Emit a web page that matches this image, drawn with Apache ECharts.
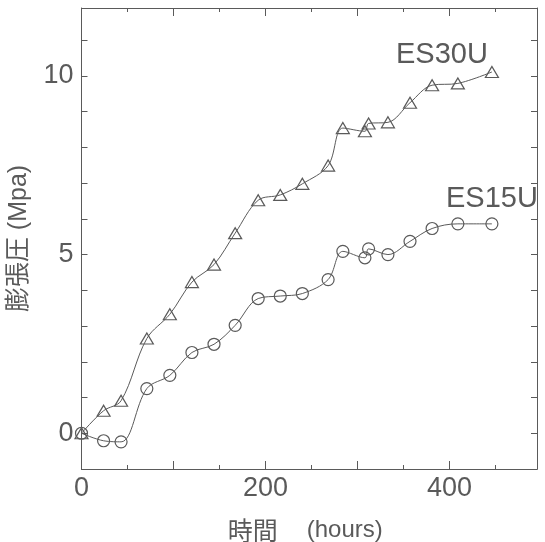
<!DOCTYPE html>
<html>
<head>
<meta charset="utf-8">
<script src="https://cdn.jsdelivr.net/npm/echarts@6/dist/echarts.min.js"></script>
<style>
html,body{margin:0;padding:0;background:#fff;}
#c{width:545px;height:542px;}
</style>
</head>
<body>
<div id="c"></div>
<script>
// Time (hours)
const hours = [0, 24, 43, 71, 96, 120, 144, 167, 192, 216, 240, 268, 284, 308, 312, 333, 357, 381, 409, 446];
// Swelling pressure (MPa)
const es30u = [0, 0.63, 0.91, 2.65, 3.33, 4.23, 4.72, 5.60, 6.52, 6.67, 6.98, 7.49, 8.54, 8.45, 8.67, 8.70, 9.25, 9.74, 9.79, 10.11];
const es15u = [0, -0.21, -0.24, 1.25, 1.62, 2.26, 2.49, 3.02, 3.77, 3.84, 3.91, 4.30, 5.09, 4.91, 5.16, 5.00, 5.37, 5.73, 5.86, 5.86];
const xTickLabels = [0, 200, 400];
const yTickLabels = [0, 5, 10];
const seriesNames = ['ES30U', 'ES15U'];

const GRAY = '#5a5a5a';
const FONT = 'Liberation Sans, Arial, Noto Sans CJK JP, sans-serif';

const chart = echarts.init(document.getElementById('c'), null, {renderer: 'canvas'});

function xAxisDef(pos, interval, len, labels) {
  return {
    type: 'value', position: pos, min: 0, max: 495, interval: interval,
    axisLine: {show: true, onZero: false, lineStyle: {color: GRAY, width: 1}},
    axisTick: {show: true, inside: true, length: len, lineStyle: {color: GRAY, width: 1}},
    splitLine: {show: false},
    axisLabel: labels ? {
      show: true, margin: 6, color: GRAY, fontSize: 27, fontFamily: FONT,
      formatter: v => xTickLabels.includes(v) ? String(v) : ''
    } : {show: false}
  };
}
function yAxisDef(pos, labels) {
  return {
    type: 'value', position: pos, min: -1, max: 11.9, interval: 1,
    axisLine: {show: true, onZero: false, lineStyle: {color: GRAY, width: 1}},
    axisTick: {show: true, inside: true, length: 6, lineStyle: {color: GRAY, width: 1}},
    splitLine: {show: false},
    axisLabel: labels ? {
      show: true, margin: 8, color: GRAY, fontSize: 27, fontFamily: FONT,
      formatter: v => yTickLabels.includes(v) ? String(v) : ''
    } : {show: false}
  };
}

const xb = xAxisDef('bottom', 100, 8, true);
xb.name = '{a|時間}{b|(hours)}';
xb.nameLocation = 'middle';
xb.nameGap = 49;
xb.nameTextStyle = {
  rich: {
    a: {fontSize: 25, color: GRAY, fontFamily: 'Noto Sans CJK JP, sans-serif'},
    b: {fontSize: 24, color: GRAY, fontFamily: FONT, padding: [0, 8, 0, 29]}
  }
};
const yl = yAxisDef('left', true);
yl.name = '膨張圧 (Mpa)';
yl.nameLocation = 'middle';
yl.nameGap = 50;
yl.nameRotate = 90;
yl.nameTextStyle = {fontSize: 25, color: GRAY, fontFamily: 'Liberation Sans, Noto Sans CJK JP, sans-serif'};

function seriesDef(name, vals, symbol, size) {
  return {
    name: name, type: 'line', xAxisIndex: 0, yAxisIndex: 0,
    data: hours.map((h, i) => [h, vals[i]]),
    smooth: 0.35,
    symbol: symbol, symbolSize: size, showSymbol: true,
    lineStyle: {color: GRAY, width: 1},
    itemStyle: {color: 'rgba(0,0,0,0)', borderColor: GRAY, borderWidth: 1.2},
    emphasis: {disabled: true},
    z: 3
  };
}

chart.setOption({
  animation: false,
  backgroundColor: '#fff',
  grid: {left: 81.5, right: 8, top: 8, bottom: 73, containLabel: false, outerBoundsMode: 'none'},
  xAxis: [
    xb,
    xAxisDef('bottom', 50, 4, false),
    xAxisDef('top', 100, 8, false),
    xAxisDef('top', 50, 4, false)
  ],
  yAxis: [yl, yAxisDef('right', false)],
  series: [
    seriesDef(seriesNames[0], es30u, 'triangle', [13, 11]),
    seriesDef(seriesNames[1], es15u, 'circle', 12)
  ],
  graphic: [
    {type: 'text', left: 396, top: 40, style: {text: seriesNames[0], fontSize: 29, fill: GRAY, fontFamily: FONT}},
    {type: 'text', left: 446, top: 184, style: {text: seriesNames[1], fontSize: 29, fill: GRAY, fontFamily: FONT}}
  ]
});
</script>
</body>
</html>
